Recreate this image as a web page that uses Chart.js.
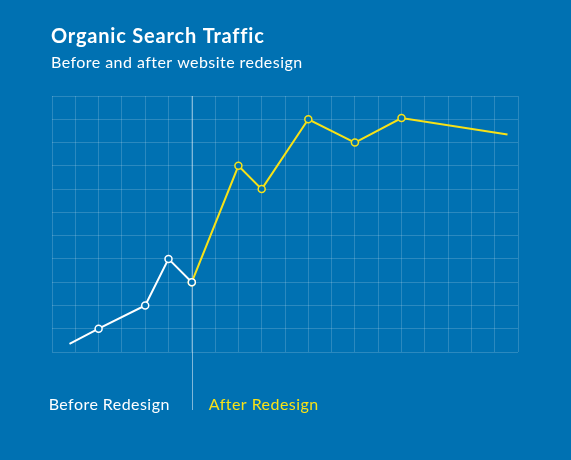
<!DOCTYPE html>
<html>
<head>
<meta charset="utf-8">
<script src="https://cdn.jsdelivr.net/npm/chart.js@4"></script>
<style>
  body { margin: 0; background: #0071b2; }
  #wrap { width: 571px; height: 460px; }
</style>
</head>
<body>
<div id="wrap"><canvas id="myChart"></canvas></div>
<script>
const titleText = "Organic Search Traffic";
const subtitleText = "Before and after website redesign";
const phaseLabels = ["Before Redesign", "After Redesign"];

// x in grid steps (0..20), y in grid steps (0..11)
const beforeX = [0.75, 2, 4, 5, 6];
const beforeY = [0.35, 1, 2, 4, 3];
const afterX = [6, 8, 9, 11, 13, 15, 19.55];
const afterY = [3, 8, 7, 10, 9, 10.05, 9.35];
const redesignAt = 6;

const bg = '#0071b2';
const yellow = '#f7e217';

function toPoints(xs, ys) {
    return xs.map((x, i) => ({ x: x, y: ys[i] }));
}

const extras = {
    id: 'extras',
    beforeDraw(chart) {
        const c = chart.ctx;
        c.save();
        c.fillStyle = bg;
        c.fillRect(0, 0, chart.width, chart.height);
        c.restore();
    },
    beforeDatasetsDraw(chart) {
        const c = chart.ctx;
        const x = Math.round(chart.scales.x.getPixelForValue(redesignAt)) + 0.5;
        c.save();
        c.strokeStyle = 'rgba(255,255,255,0.5)';
        c.lineWidth = 1;
        c.beginPath();
        c.moveTo(x, chart.chartArea.top);
        c.lineTo(x, 410);
        c.stroke();
        c.restore();
    },
    afterDraw(chart) {
        const c = chart.ctx;
        const x = chart.scales.x.getPixelForValue(redesignAt);
        c.save();
        c.textBaseline = 'alphabetic';
        c.fillStyle = '#ffffff';
        c.textAlign = 'left';
        c.font = 'bold 20px Lato';
        c.letterSpacing = '0.8px';
        c.fillText(titleText, 51, 43);
        c.font = '16px Lato';
        c.letterSpacing = '0.45px';
        c.fillText(subtitleText, 51, 68);
        c.textAlign = 'right';
        c.fillText(phaseLabels[0], x - 22, 410);
        c.fillStyle = yellow;
        c.textAlign = 'left';
        c.fillText(phaseLabels[1], x + 17, 410);
        c.restore();
    }
};

document.addEventListener('DOMContentLoaded', function() {
    const ctx = document.getElementById('myChart').getContext('2d');
    new Chart(ctx, {
        type: 'line',
        data: {
            datasets: [
                {
                    label: phaseLabels[0],
                    data: toPoints(beforeX, beforeY),
                    borderColor: '#ffffff',
                    borderWidth: 2,
                    pointBackgroundColor: bg,
                    pointBorderColor: '#ffffff',
                    pointBorderWidth: 1.5,
                    pointRadius: c => c.dataIndex === 0 ? 0 : 3.5,
                    tension: 0
                },
                {
                    label: phaseLabels[1],
                    data: toPoints(afterX, afterY),
                    borderColor: yellow,
                    borderWidth: 2,
                    pointBackgroundColor: bg,
                    pointBorderColor: yellow,
                    pointBorderWidth: 1.5,
                    pointRadius: c => c.dataIndex === afterX.length - 1 ? 0 : 3.5,
                    tension: 0
                }
            ]
        },
        options: {
            responsive: true,
            maintainAspectRatio: false,
            animation: false,
            layout: { padding: { left: 52, right: 53, top: 96, bottom: 108 } },
            plugins: {
                legend: { display: false },
                tooltip: { enabled: false }
            },
            scales: {
                x: {
                    type: 'linear',
                    min: 0,
                    max: 20,
                    ticks: { display: false, stepSize: 1 },
                    grid: { color: 'rgba(255,255,255,0.17)', drawTicks: false },
                    border: { display: false }
                },
                y: {
                    min: 0,
                    max: 11,
                    ticks: { display: false, stepSize: 1 },
                    grid: { color: 'rgba(255,255,255,0.17)', drawTicks: false },
                    border: { display: false }
                }
            }
        },
        plugins: [extras]
    });
});
</script>
</body>
</html>
